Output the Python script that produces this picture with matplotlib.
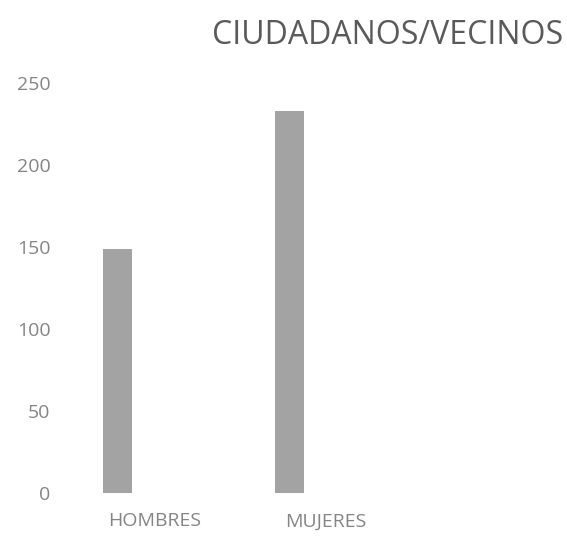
import matplotlib.pyplot as plt

categorias = ["HOMBRES", "MUJERES"]
valores = [149, 233]
ticks_y = [0, 50, 100, 150, 200, 250]

plt.rcParams['font.family'] = ['Open Sans', 'DejaVu Sans']

fig = plt.figure(figsize=(5.67, 5.42), dpi=100)
ax = fig.add_axes([0.106, 0.0904, 0.882, 0.7565])

pos = list(range(len(categorias)))
# la barra va a la izquierda del centro de cada categoria
desplazamiento = -0.213
ax.bar([p + desplazamiento for p in pos], valores, width=0.17, color='#a3a3a3', zorder=2)

ax.set_xlim(-0.55, 2.37)
ax.set_ylim(0, 250)
ax.set_yticks(ticks_y)
ax.set_xticks(pos)
ax.set_xticklabels(categorias)

for s in ax.spines.values():
    s.set_visible(False)
ax.tick_params(axis='both', length=0, colors='#858585', labelsize=14)
ax.tick_params(axis='y', pad=7)
ax.tick_params(axis='x', pad=14)

fig.text(0.683, 0.934, "CIUDADANOS/VECINOS", ha='center', va='center',
         fontsize=23, color='#5a5a5a')

fig.savefig("out.png", dpi=100)
